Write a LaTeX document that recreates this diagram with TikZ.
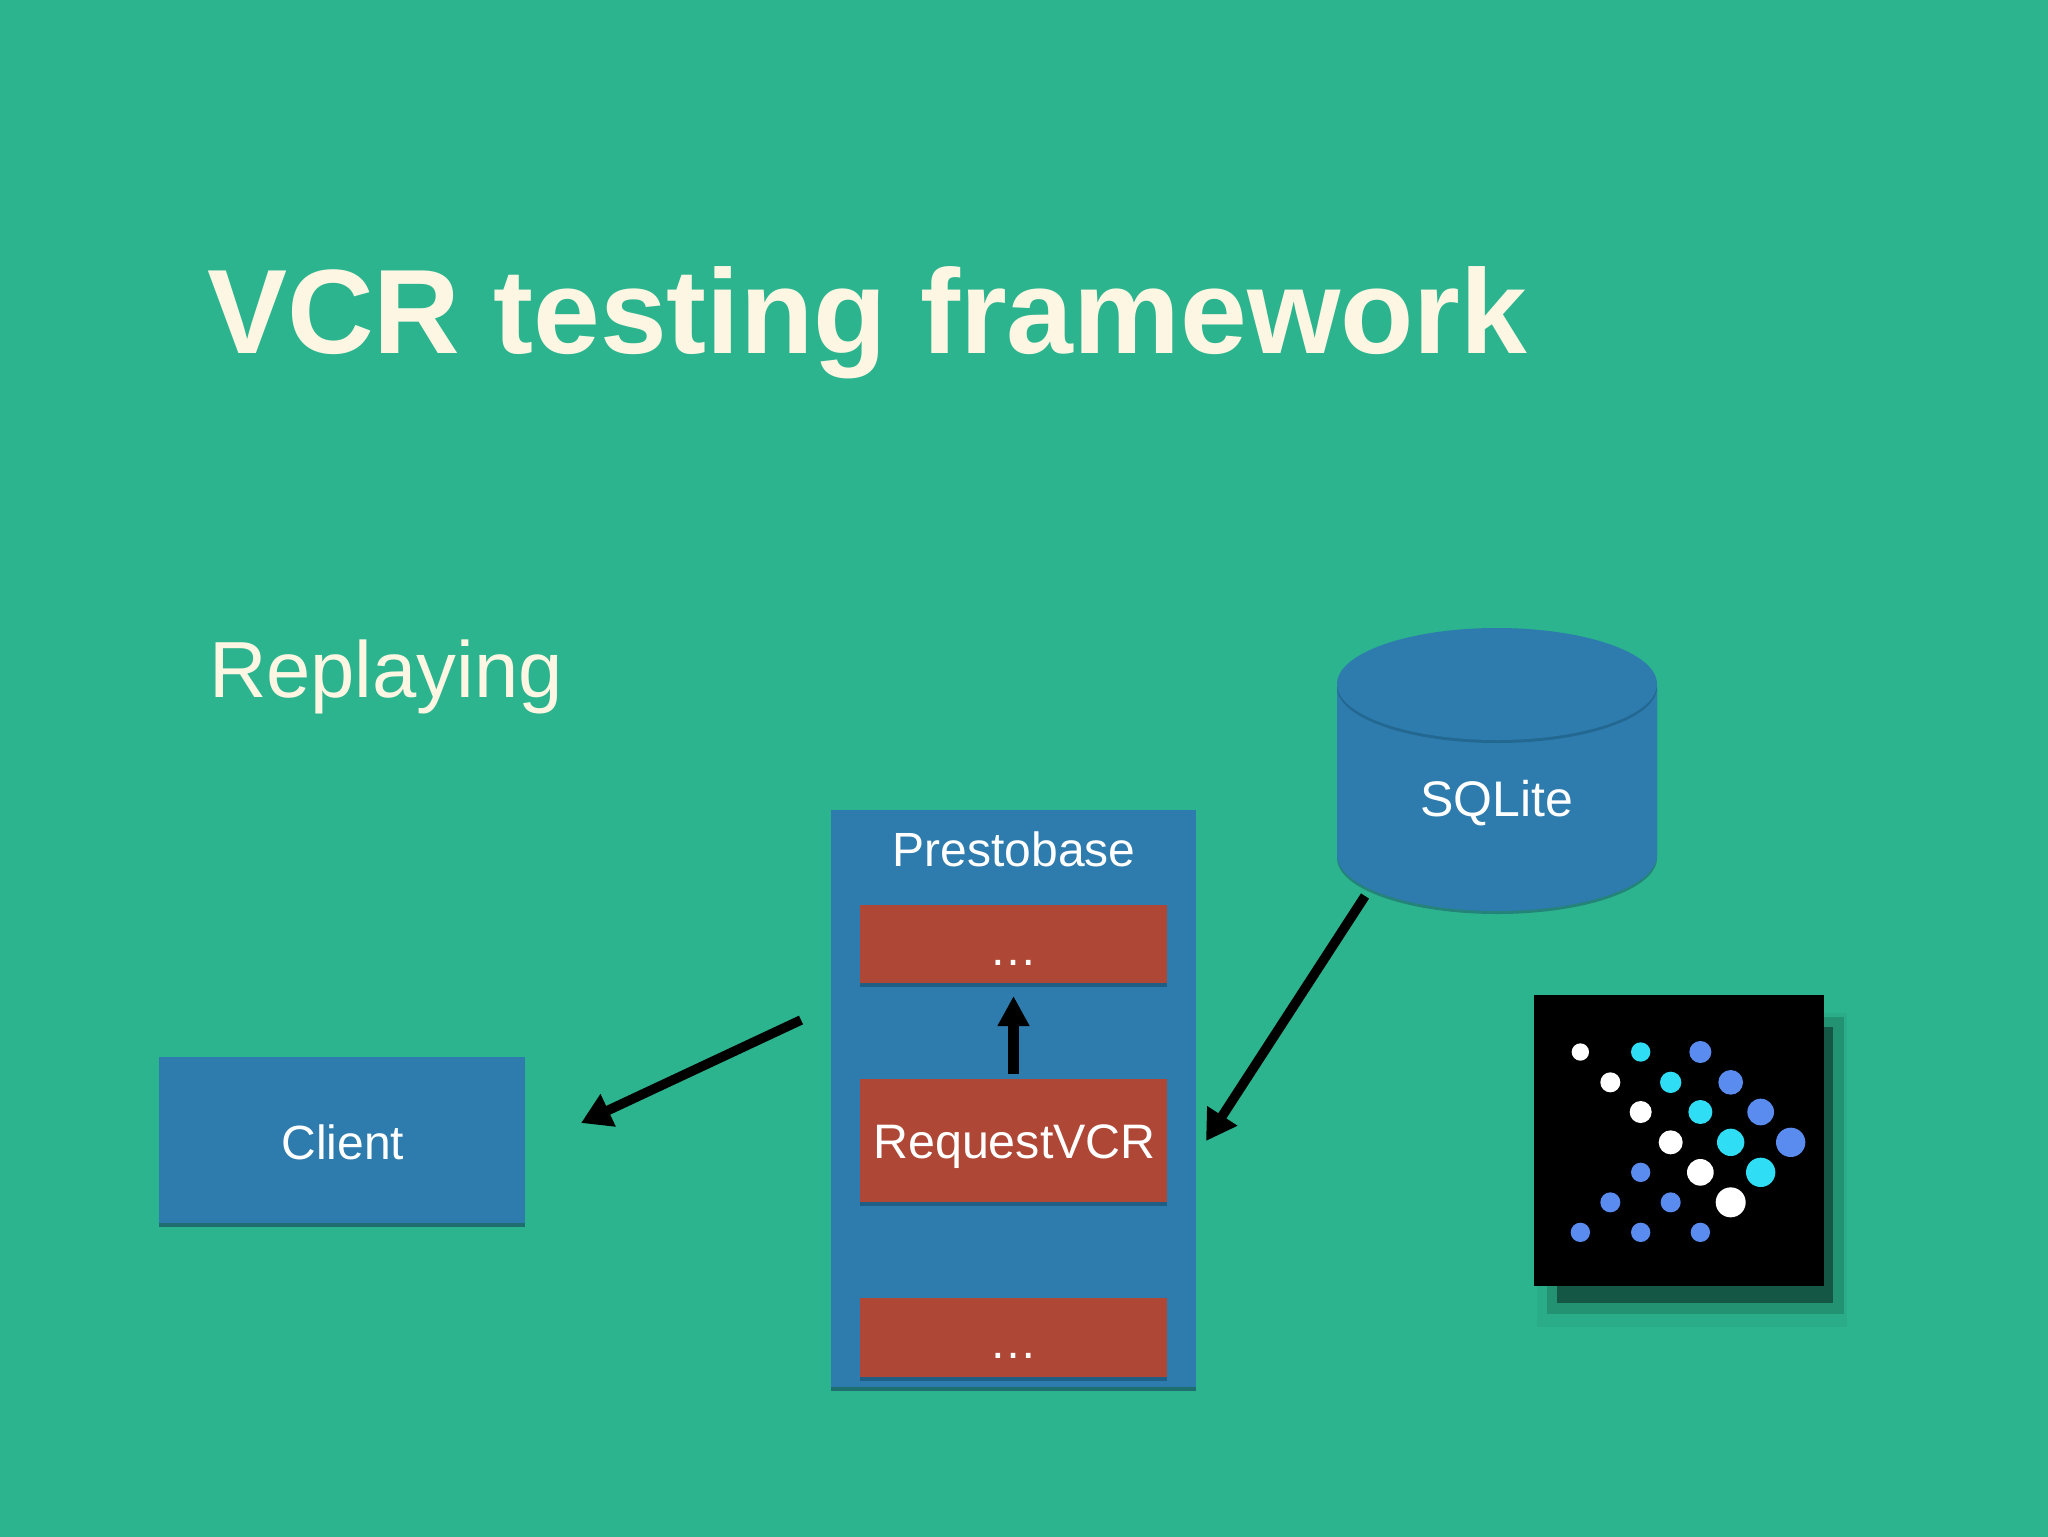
\documentclass[tikz,border=0pt]{standalone}
\usepackage{fontspec}
\setmainfont{Liberation Sans}
\usetikzlibrary{arrows.meta,calc}
\definecolor{bg}{HTML}{2CB48E}
\definecolor{boxblue}{HTML}{2E7BAE}
\definecolor{boxred}{HTML}{AE4735}
\definecolor{cream}{HTML}{FDF6E3}
\definecolor{dotblue}{HTML}{5A8CF0}
\definecolor{dotcyan}{HTML}{2FDDF5}
\definecolor{shadowgreen}{HTML}{206F70}
\definecolor{shadowblue}{HTML}{1F5F85}
\tikzset{
  x=0.5pt,y=-0.5pt,
  px/.style={inner sep=0pt,outer sep=0pt},
  bluebox/.style={fill=boxblue,draw=none},
  lbl/.style={px,text=white,font=\fontsize{24}{28}\selectfont,anchor=base},
  thin arrow/.style={line width=4.8pt,-{Triangle[length=15pt,width=17pt]}},
  thick arrow/.style={line width=5.7pt,-{Triangle[length=15pt,width=15pt]}},
  wd/.style={circle,fill=white,inner sep=0pt,minimum size=#1*0.16667pt},
  cy/.style={circle,fill=dotcyan,inner sep=0pt,minimum size=#1*0.16667pt},
  bl/.style={circle,fill=dotblue,inner sep=0pt,minimum size=#1*0.16667pt},
}
\begin{document}
\begin{tikzpicture}
\path[use as bounding box] (0,0) rectangle (2048,1536);
\fill[bg] (-6,-6) rectangle (2054,1542);
% texts
\node[px,anchor=base west,text=cream,font=\bfseries\fontsize{60}{70}\selectfont] (title) at (207,353) {VCR testing framework};
\node[px,anchor=base west,text=cream,font=\fontsize{39.8}{48}\selectfont] (sub) at (209,697) {Replaying};
% client
\fill[shadowgreen] (159,1060) rectangle (525,1227);
\fill[bluebox] (159,1057) rectangle (525,1223);
\node[lbl] (client) at (343,1159) {Client};
\coordinate (clientend) at (581,1123);
% prestobase
\fill[shadowgreen] (831,814) rectangle (1196,1391);
\fill[bluebox] (831,810) rectangle (1196,1387);
\node[lbl] (presto) at (1014,866) {Prestobase};
\coordinate (prestoout) at (801,1020);
\coordinate (prestoin) at (1206,1141);
\foreach \ya/\yb/\n in {905/983/top,1079/1202/req,1298/1377/bot}{
  \fill[shadowblue] (860,\ya+4) rectangle (1167,\yb+4);
  \node[px,fill=boxred,minimum width=153.5pt,minimum height={(\yb-\ya)*0.5pt}] (\n) at (1013.5,{(\ya+\yb)/2}) {};
}
\node[lbl,font=\fontsize{24.2}{28}\selectfont] at (1014.5,1158) {RequestVCR};
\node[lbl] at (1013.5,965) {\ldots};
\node[lbl] at (1013.5,1358) {\ldots};
% sqlite
\fill[shadowgreen!70!bg] (1337,689) -- (1337,858) arc[start angle=180,end angle=0,x radius=160,y radius=56] -- (1657,689) -- cycle;
\fill[bluebox] (1337,685) -- (1337,855) arc[start angle=180,end angle=0,x radius=160,y radius=56] -- (1657,685) -- cycle;
\fill[shadowblue!70!boxblue] (1497,687) ellipse[x radius=160,y radius=56];
\fill[bluebox] (1497,684) ellipse[x radius=160,y radius=56];
\node[lbl,font=\fontsize{25}{28}\selectfont] (sql) at (1497,816) {SQLite};
\coordinate (sqlout) at (1365,896);
% connectors
\draw[thick arrow] (req.north -| top.south) ++(0,-5) -- (1013.5,996);
\draw[thin arrow] (prestoout) -- (clientend);
\draw[thin arrow] (sqlout) -- (prestoin);
% logo
\fill[black,opacity=.04] (1537,1013) rectangle (1847,1327);
\fill[black,opacity=.15] (1547,1017) rectangle (1844,1314);
\fill[black,opacity=.4] (1557,1027) rectangle (1833,1303);
\node[px,fill=black,minimum width=145pt,minimum height=145.5pt] (logo) at (1679,1140.5) {};
\begin{scope}[shift={(1500,970)}]
\foreach \cx/\cy/\d in {241/246/52,331/337/60,422/426/66,512/517/72,601/607/80,692/697/90}
  \node[wd=\d] at ({\cx/3},{\cy/3}) {};
\foreach \cx/\cy/\d in {422/246/58,512/337/64,601/426/72,692/517/82,782/607/88}
  \node[cy=\d] at ({\cx/3},{\cy/3}) {};
\foreach \cx/\cy/\d in {601/246/66,692/337/74,782/426/80,872/517/88,422/607/58,331/697/60,512/697/60,241/787/58,422/787/58,601/787/58}
  \node[bl=\d] at ({\cx/3},{\cy/3}) {};
\end{scope}
\end{tikzpicture}
\end{document}
